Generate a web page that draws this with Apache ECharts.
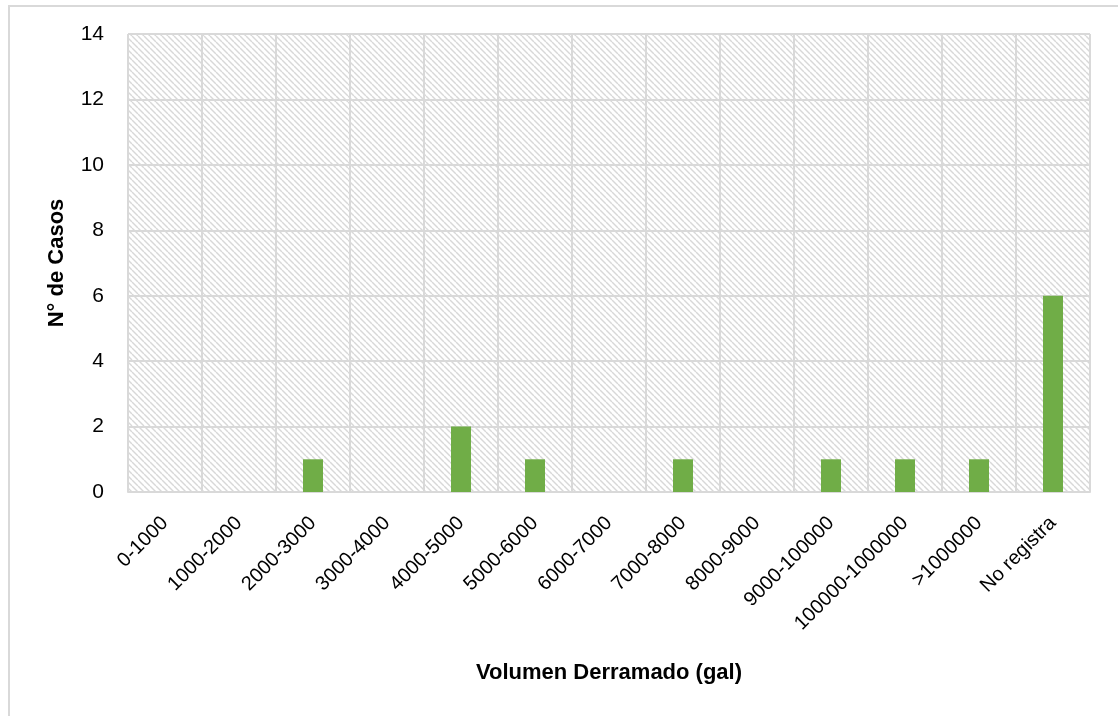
<!DOCTYPE html>
<html><head><meta charset="utf-8">
<script src="https://cdn.jsdelivr.net/npm/echarts@6/dist/echarts.min.js"></script>
<style>html,body{margin:0;padding:0;background:#fff}#c{width:1118px;height:716px}
#frame{position:absolute;left:8px;top:5px;width:1200px;height:800px;border:2px solid #d9d9d9;box-sizing:border-box;pointer-events:none}</style>
</head><body><div id="c"></div><div id="frame"></div>
<script>
const categories = ['0-1000','1000-2000','2000-3000','3000-4000','4000-5000','5000-6000','6000-7000','7000-8000','8000-9000','9000-100000','100000-1000000','>1000000','No registra'];
const casos = [0,0,1,0,2,1,0,1,0,1,1,1,6];
const yTitle = 'N° de Casos';
const xTitle = 'Volumen Derramado (gal)';

const FONT = "'Liberation Sans', Arial, sans-serif";

const pc = document.createElement('canvas');
pc.width = 6; pc.height = 6;
const g = pc.getContext('2d');
g.fillStyle = '#ffffff'; g.fillRect(0,0,6,6);
g.strokeStyle = '#d8d8d8'; g.lineWidth = 1.4;
for (let k = -6; k <= 12; k += 6) { g.beginPath(); g.moveTo(k,0); g.lineTo(k+6,6); g.stroke(); }

const chart = echarts.init(document.getElementById('c'), null, {renderer:'canvas'});
chart.setOption({
  animation:false,
  grid:{left:128, right:28, top:34, bottom:224, show:true, borderWidth:0,
        backgroundColor:{image:pc, repeat:'repeat'}},
  xAxis:{type:'category', data:categories,
    name:xTitle, nameLocation:'middle', nameGap:170,
    nameTextStyle:{fontFamily:FONT, fontSize:22, fontWeight:'bold', color:'#000'},
    axisLine:{lineStyle:{color:'#d9d9d9', width:2}}, axisTick:{show:false},
    splitLine:{show:true, interval:0, lineStyle:{color:'#d9d9d9', width:2}},
    axisLabel:{interval:0, rotate:45, margin:28, fontFamily:FONT, fontSize:20, color:'#000'}},
  yAxis:{type:'value', min:0, max:14, interval:2,
    name:yTitle, nameLocation:'middle', nameGap:60,
    nameTextStyle:{fontFamily:FONT, fontSize:22, fontWeight:'bold', color:'#000'},
    axisLine:{show:false}, axisTick:{show:false},
    splitLine:{lineStyle:{color:'#d9d9d9', width:2}},
    axisLabel:{margin:24, fontFamily:FONT, fontSize:21, color:'#000'}},
  series:[{type:'bar', data:casos, barWidth:20, itemStyle:{color:'#70ad47'}}]
});
</script></body></html>
